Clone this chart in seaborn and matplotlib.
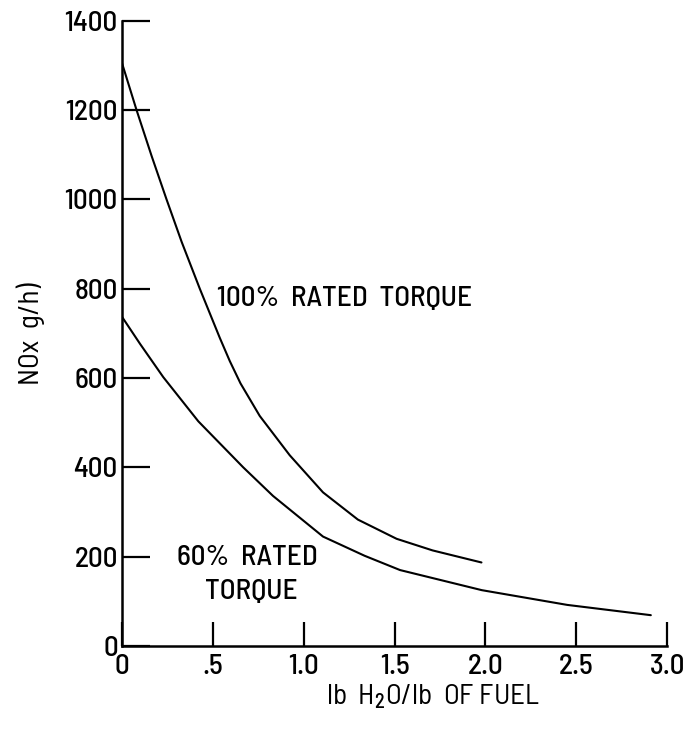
import matplotlib
matplotlib.use("Agg")
import matplotlib.pyplot as plt
import seaborn as sns
import pandas as pd

# 100% rated torque curve
x_100 = [0.0, 0.08, 0.163, 0.245, 0.328, 0.428, 0.538, 0.593, 0.652, 0.758, 0.923, 1.106, 1.298, 1.511, 1.709, 1.978]
y_100 = [1305, 1200, 1097, 1000, 905, 800, 690, 638, 588, 515, 427, 344, 283, 240, 214, 187]

# 60% rated torque curve
x_60 = [0.0, 0.1, 0.227, 0.42, 0.667, 0.831, 1.106, 1.335, 1.53, 1.98, 2.45, 2.91]
y_60 = [737, 676, 602, 503, 400, 336, 245, 202, 170, 125, 92, 69]

x_ticks = [0, 0.5, 1.0, 1.5, 2.0, 2.5, 3.0]
x_tick_labels = ["0", ".5", "1.0", "1.5", "2.0", "2.5", "3.0"]
y_ticks = [0, 200, 400, 600, 800, 1000, 1200, 1400]
y_tick_labels = ["0", "200", "400", "600", "800", "1000", "1200", "1400"]

sns.set_style("ticks")
FONT = "Barlow Semi Condensed"
plt.rcParams['font.family'] = [FONT, 'DejaVu Sans']
plt.rcParams['font.weight'] = 500
plt.rcParams['mathtext.fontset'] = 'custom'
plt.rcParams['mathtext.rm'] = FONT + ':medium'
plt.rcParams['mathtext.it'] = FONT + ':medium'
for k in ['text.color', 'axes.labelcolor', 'xtick.color', 'ytick.color', 'axes.edgecolor']:
    plt.rcParams[k] = 'black'

df100 = pd.DataFrame({"x": x_100, "y": y_100})
df60 = pd.DataFrame({"x": x_60, "y": y_60})

fig = plt.figure(figsize=(6.96, 7.34), dpi=100)
ax = fig.add_axes([0.1753, 0.1199, 0.7833, 0.8519])

sns.lineplot(data=df100, x="x", y="y", ax=ax, color="black", linewidth=1.5, sort=False)
sns.lineplot(data=df60, x="x", y="y", ax=ax, color="black", linewidth=1.5, sort=False)

FS = 21
ax.set_xlim(0, 3.0)
ax.set_ylim(0, 1400)
ax.set_xticks(x_ticks)
ax.set_xticklabels(x_tick_labels, fontsize=FS)
ax.set_yticks(y_ticks)
ax.set_yticklabels(y_tick_labels, fontsize=FS)
ax.tick_params(axis="x", direction="in", length=17, width=1.6, pad=6)
ax.tick_params(axis="y", direction="in", length=20, width=1.6, pad=3)

for s in ["top", "right"]:
    ax.spines[s].set_visible(False)
for s in ["left", "bottom"]:
    ax.spines[s].set_linewidth(1.8)

ax.set_xlabel(r"lb  H$_2$O/lb  OF FUEL", fontsize=FS)
ax.xaxis.set_label_coords(0.57, -0.058, transform=ax.transAxes)
ax.xaxis.label.set_va("top")
ax.set_ylabel("NOx  g/h)", fontsize=FS, labelpad=14)

ax.text(0.52, 761, "100%  RATED  TORQUE", fontsize=FS, ha="left", va="baseline")
ax.text(0.30, 182, "60%  RATED", fontsize=FS, ha="left", va="baseline")
ax.text(0.456, 106, "TORQUE", fontsize=FS, ha="left", va="baseline")

fig.savefig("out.png", dpi=100)
